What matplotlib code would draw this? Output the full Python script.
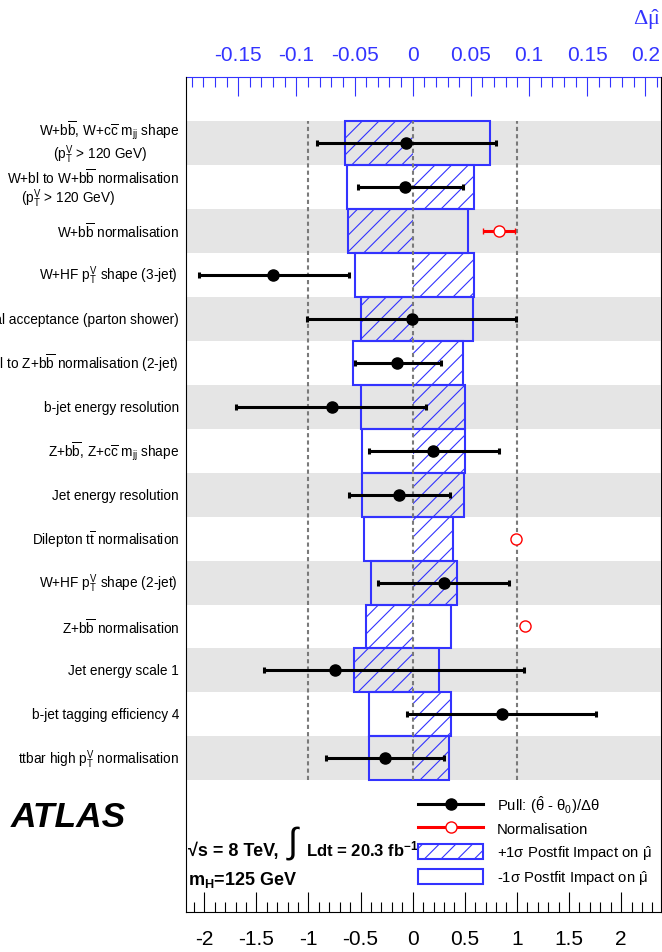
import numpy as np
import matplotlib.pyplot as plt
from matplotlib.lines import Line2D
from matplotlib.patches import Patch
from matplotlib.transforms import blended_transform_factory

plt.rcParams['font.family'] = ['Liberation Sans', 'DejaVu Sans']
plt.rcParams['mathtext.fontset'] = 'custom'
plt.rcParams['mathtext.rm'] = 'Liberation Sans'
plt.rcParams['mathtext.default'] = 'regular'
plt.rcParams['axes.unicode_minus'] = False
plt.rcParams['hatch.linewidth'] = 0.8

# nuisance parameters, top row first
labels = [
    r'W+b$\overline{b}$, W+c$\overline{c}$ m$_{jj}$ shape',
    r'W+bl to W+b$\overline{b}$ normalisation',
    r'W+b$\overline{b}$ normalisation',
    r'W+HF p$_T^V$ shape (3-jet) ',
    'Signal acceptance (parton shower)',
    r'Z+bl to Z+b$\overline{b}$ normalisation (2-jet)',
    'b-jet energy resolution',
    r'Z+b$\overline{b}$, Z+c$\overline{c}$ m$_{jj}$ shape',
    'Jet energy resolution',
    r'Dilepton t$\overline{t}$ normalisation',
    r'W+HF p$_T^V$ shape (2-jet) ',
    r'Z+b$\overline{b}$ normalisation',
    'Jet energy scale 1',
    'b-jet tagging efficiency 4',
    r'ttbar high p$_T^V$ normalisation',
]
sub_labels = {0: r'(p$_T^V$ > 120 GeV)', 1: r'(p$_T^V$ > 120 GeV)'}

# postfit impact on mu-hat (top axis units)
impact_up = [-0.058, 0.053, -0.0559, 0.0524, -0.0447, 0.043, 0.0447, 0.045,
             0.0439, 0.0347, 0.0381, -0.0402, -0.0505, 0.0332, 0.0312]
impact_down = [0.0665, -0.0562, 0.0473, -0.0499, 0.0516, -0.0511, -0.0447, -0.0433,
               -0.0436, -0.0421, -0.0359, 0.0329, 0.0224, -0.0376, -0.0376]

# pulls (bottom axis units)
pull_rows = [0, 1, 3, 4, 5, 6, 7, 8, 10, 12, 13, 14]
pull_vals = [-0.064, -0.077, -1.34, -0.01, -0.15, -0.77, 0.195, -0.13, 0.30, -0.745, 0.86, -0.27]
pull_low = [-0.92, -0.525, -2.05, -1.01, -0.55, -1.70, -0.42, -0.61, -0.33, -1.43, -0.05, -0.835]
pull_high = [0.80, 0.486, -0.61, 0.99, 0.27, 0.125, 0.83, 0.36, 0.92, 1.065, 1.76, 0.30]

# normalisation factors
norm_rows = [2, 9, 11]
norm_vals = [0.83, 0.99, 1.08]
norm_err = [0.155, 0.0, 0.0]

mu_scale = 0.0896   # delta mu-hat per unit on the pull axis
blue = '#3333ff'

fig = plt.figure(figsize=(6.62, 9.53), dpi=100)
ax = fig.add_axes([0.2805, 0.0417, 0.718, 0.8765])
n = len(labels)
ypos = n - 0.5 - np.arange(n)

for k in range(0, n, 2):
    ax.axhspan(ypos[k] - 0.5, ypos[k] + 0.5, color='#e5e5e5', lw=0, zorder=0.2)

up = np.array(impact_up) / mu_scale
down = np.array(impact_down) / mu_scale
ax.barh(ypos, up, height=1, left=0, facecolor='none', edgecolor=blue,
        hatch='//', lw=0, zorder=1)
lo = np.minimum(up, down)
hi = np.maximum(up, down)
ax.barh(ypos, hi - lo, height=1, left=lo, fill=False, edgecolor=blue, lw=1.5, zorder=1.1)

ax.vlines([-1, 0, 1], 0, n, colors='#7a7a7a', linestyles=(0, (2, 1.5)), lw=1.5, zorder=2)

pv = np.array(pull_vals)
ax.errorbar(pv, ypos[pull_rows], xerr=[pv - np.array(pull_low), np.array(pull_high) - pv],
            fmt='o', color='black', ms=8, elinewidth=2.2, capsize=2.2, capthick=2.2, zorder=3)
ax.errorbar(norm_vals, ypos[norm_rows], xerr=norm_err, fmt='o', color='red', mfc='white',
            mec='red', ms=8, mew=1, elinewidth=2.2, capsize=2.2, capthick=2.2, zorder=3)

ax.set_xlim(-2.178, 2.383)
ax.set_ylim(-3, n + 1)
ax.set_yticks([])

bot_ticks = np.arange(-2, 2.01, 0.5)
ax.set_xticks(bot_ticks)
ax.set_xticklabels(['%g' % v for v in bot_ticks])
ax.set_xticks(np.arange(-21, 24) / 10, minor=True)
ax.tick_params(axis='x', which='both', direction='in', labelsize=15, pad=12, width=0.8)
ax.tick_params(axis='x', which='major', length=14.4)
ax.tick_params(axis='x', which='minor', length=7.2)
ax.spines['top'].set_visible(False)
ax.spines['right'].set_zorder(0.1)

sec = ax.secondary_xaxis('top', functions=(lambda x: x * mu_scale, lambda x: x / mu_scale))
top_ticks = [-0.15, -0.1, -0.05, 0, 0.05, 0.1, 0.15, 0.2]
sec.set_xticks(top_ticks)
sec.set_xticklabels(['%g' % v for v in top_ticks])
sec.set_xticks(np.arange(-19, 22) / 100, minor=True)
sec.tick_params(axis='x', which='both', direction='in', colors=blue, labelsize=15, pad=9, width=0.8)
sec.tick_params(axis='x', which='major', length=13.7)
sec.tick_params(axis='x', which='minor', length=7.2)
sec.spines['top'].set_color(blue)

trans = blended_transform_factory(fig.transFigure, ax.transData)
for k, lab in enumerate(labels):
    if k in sub_labels:
        off = [0.3, 0.23][k]
        ax.text(0.2704, ypos[k] + off, lab, transform=trans, ha='right', va='center', fontsize=9.8)
        sub_x = [147, 115][k] / 662
        ax.text(sub_x, ypos[k] - 0.25, sub_labels[k], transform=trans, ha='right', va='center', fontsize=9.8)
    else:
        ax.text(0.2704, ypos[k], lab, transform=trans, ha='right', va='center', fontsize=9.8)

fig.text(0.998, 0.979, r'$\Delta\hat{\mu}$', ha='right', va='center', color=blue,
         fontsize=16, family='Liberation Serif')
fig.text(0.103, 0.1427, 'ATLAS', fontsize=25.5, fontweight='bold', fontstyle='italic',
         ha='center', va='center')

ax.text(0.004, 0.0686, '√s = 8 TeV,', transform=ax.transAxes, fontsize=13, fontweight='bold', va='baseline')
ax.text(0.224, 0.0836, '∫', transform=ax.transAxes, fontsize=26, ha='center', va='center')
ax.text(0.253, 0.0686, r'Ldt = 20.3 fb$^{-1}$', transform=ax.transAxes, fontsize=12,
        fontweight='bold', va='baseline')
ax.text(0.0055, 0.034, r'm$_H$=125 GeV', transform=ax.transAxes, fontsize=13,
        fontweight='bold', va='baseline')

handles = [
    Line2D([], [], color='black', lw=2.2, marker='o', ms=8),
    Line2D([], [], color='red', lw=2.2, marker='o', ms=8, mfc='white', mew=1),
    Patch(facecolor='none', edgecolor=blue, hatch='//', lw=1.5),
    Patch(facecolor='none', edgecolor=blue, lw=1.5),
]
leg_labels = [
    r'Pull: ($\hat{\theta}$ - $\theta_0$)/$\Delta\theta$',
    'Normalisation',
    r'+1$\sigma$ Postfit Impact on $\hat{\mu}$',
    r'-1$\sigma$ Postfit Impact on $\hat{\mu}$',
]
ax.legend(handles, leg_labels, loc='upper left', bbox_to_anchor=(0.489, 0.1428),
          frameon=False, fontsize=10.7, handlelength=4.36, handleheight=1.15,
          handletextpad=0.94, labelspacing=0.42, borderpad=0, borderaxespad=0)

fig.savefig('out.png', dpi=100)
